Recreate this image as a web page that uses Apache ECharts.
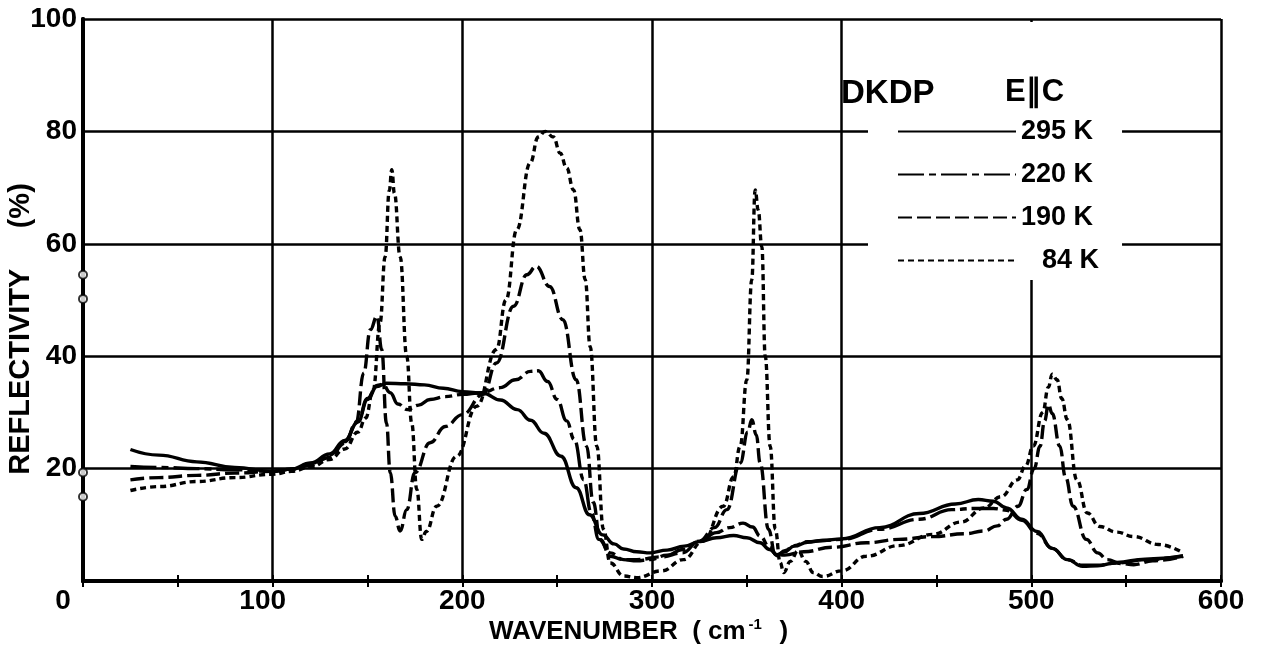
<!DOCTYPE html>
<html><head><meta charset="utf-8">
<script src="https://cdn.jsdelivr.net/npm/echarts@6/dist/echarts.min.js"></script>
<style>html,body{margin:0;padding:0;background:#fff}#c{width:1262px;height:657px}</style>
</head><body><div id="c"></div>
<script>
// ---- data ----
const seriesNames = ['295 K', '220 K', '190 K', '84 K'];
const xTicks = [0, 100, 200, 300, 400, 500, 600];
const yTicks = [20, 40, 60, 80, 100];

const wn295 = [25,40,60,80,100,110,120,130,138,145,150,155,160,170,180,190,200,211,220,229,236,243,252,260,267,274,280,285,292,299,308,317,325,334,343,350,357,362,366,370,375,382,390,400,420,441,460,472,480,487,495,503,511,519,527,535,545,560,580];
const refl295 = [23.4,22.4,21.2,20.2,19.5,19.9,21.0,22.6,25.0,28.3,32.3,34.6,35.2,35.1,34.9,34.3,33.7,33.4,32.2,30.5,28.6,26.3,22.2,16.6,11.8,8.2,6.6,5.7,5.2,5.0,5.5,6.2,7.0,7.7,8.1,7.7,6.8,5.6,4.7,5.2,6.2,6.9,7.2,7.5,9.5,12.0,13.7,14.5,14.2,13.0,11.0,8.8,5.8,3.8,2.6,2.7,3.3,3.9,4.4];

const wn220 = [25,40,60,80,100,110,120,130,138,145,150,155,158,162,166,171,177,183,191,200,210,220,228,236,240,245,250,255,259,264,268,272,278,285,292,299,308,316,325,334,341,348,353,357,362,366,370,375,382,390,400,420,441,458,470,480,487,495,503,511,519,527,535,545,560,580];
const refl220 = [20.4,20.2,20.0,19.8,19.5,19.9,20.9,22.4,24.8,28.5,32.5,34.8,35.0,33.5,31.5,30.5,31.3,32.3,32.8,33.2,33.5,34.4,35.8,37.3,37.4,35.5,32.3,28.5,25.2,18.0,12.1,7.4,5.0,3.8,3.6,3.8,4.6,5.6,7.0,8.6,9.5,10.3,9.6,8.0,6.0,4.5,5.4,6.3,7.0,7.2,7.4,9.2,11.0,12.7,12.9,12.9,12.6,10.8,8.5,5.8,3.8,2.8,2.8,3.2,3.8,4.5];

const wn190 = [25,40,60,80,100,110,120,130,138,144,148,151.5,155,157.5,160,162,164.6,167.2,170.7,175,183,191,200,211,218,227,234,239,246,253,260,265.5,269,272.7,278,285,292,305,316,325,333,339.5,346.5,350.5,352.6,355,357,361.4,365,370,380,395,413,430,448,465,475,482,487,493,497.6,501.5,504.6,507,509,511,515,518,522,529,535,540,547,554,564,580];
const refl190 = [18.0,18.4,18.8,19.2,19.5,19.9,20.6,22.0,24.5,28.1,37.0,44.7,47.1,41.2,28.1,19.3,11.5,8.9,12.7,19.3,24.6,27.5,29.6,33.2,38.8,48.9,54.5,56.0,52.4,46.5,35.8,24.0,14.0,7.4,4.4,3.8,3.8,4.3,5.0,7.1,9.5,12.7,21.0,26.5,28.7,26.0,21.0,9.2,4.8,4.6,5.2,6.0,6.8,7.4,7.9,8.4,8.9,9.8,11.0,13.3,16.3,20.0,24.0,28.5,31.4,29.8,24.0,18.5,13.3,7.4,5.0,3.8,3.1,2.9,3.6,4.4];

const wn84 = [25,40,60,80,100,110,120,130,138,145,149,153,156.6,159.3,161.5,162.8,164.2,167.2,170.7,173.3,176,178.6,181,186.5,197,207.6,218,223,228.7,235.8,240,243.7,248,251.6,255,258.6,262,264.8,267.4,270.9,274.4,278,285,292,305,316.6,327,337.6,343,346.5,350,352.6,354.4,356,357.9,359.7,362.3,365,367.6,369.4,373,377,381,385,390,400,413,430,448,463,475,484,492.6,497,501,506,509,511,513.6,516,519,524,529.5,536,545,554,567,580];
const refl84 = [16.1,16.8,17.7,18.4,19.0,19.5,20.3,21.6,23.5,26.5,29.0,34.0,45.9,57.7,69.5,73.2,69.0,57.7,40.0,28.1,16.3,7.4,8.8,13.3,22.2,31.1,41.2,50.0,62.5,74.4,79.0,80.0,79.0,76.1,73.5,69.6,62.5,53.6,41.7,24.0,9.2,3.2,0.9,0.6,1.8,3.8,7.1,13.3,18.5,24.0,35.8,53.6,69.6,66.0,59.5,40.0,24.0,9.2,3.3,1.5,3.5,5.4,3.5,1.5,0.8,1.8,4.4,6.3,8.3,10.5,13.0,15.0,18.0,20.5,24.0,30.0,34.5,36.8,35.8,32.5,28.7,18.0,12.1,9.7,8.7,7.9,6.5,5.0];

// open circles drawn on the reflectivity axis (wavenumber 0)
const zeroFreqMarks = [54.5, 50.2, 19.3, 15.0];

// ---- chart ----
const FONT = '"Liberation Sans", Arial, sans-serif';
const zip = (xs, ys) => xs.map((x, i) => [x, ys[i]]);
const dashStyles = ['solid', [26, 5, 7, 5], [14, 5], [6, 4]];
const curves = [zip(wn295, refl295), zip(wn220, refl220), zip(wn190, refl190), zip(wn84, refl84)];

const chart = echarts.init(document.getElementById('c'), null, {renderer: 'canvas'});
const option = {
  backgroundColor: '#fff',
  animation: false,
  grid: {left: 83, right: 41, top: 19, bottom: 76, containLabel: false, outerBoundsMode: 'none'},
  title: [
    {text: 'DKDP', left: 836, top: 72, textStyle: {fontFamily: FONT, fontSize: 33, fontWeight: 'bold', color: '#000'}},
    {text: 'E\u2225C', left: 1000, top: 72, textStyle: {fontFamily: FONT, fontSize: 31, fontWeight: 'bold', color: '#000'}}
  ],
  legend: {
    data: seriesNames,
    orient: 'vertical',
    left: 868, top: 22,
    padding: [96, 23, 6, 29],
    itemWidth: 118, itemHeight: 14, itemGap: 16,
    backgroundColor: '#fff',
    itemStyle: {color: 'rgba(0,0,0,0)', borderColor: 'rgba(0,0,0,0)', borderWidth: 0, opacity: 0},
    formatter: n => (n.length < 5 ? '\u2002 ' + n : n),
    textStyle: {fontFamily: FONT, fontSize: 27, fontWeight: 'bold', color: '#000', lineHeight: 26}
  },
  xAxis: [
    {
      type: 'value', min: xTicks[0], max: xTicks[xTicks.length - 1], interval: 100, position: 'bottom',
      name: '{t|WAVENUMBER  ( cm}{s|-1}{t|  )}', nameLocation: 'middle', nameGap: 36, nameMoveOverlap: false,
      nameTextStyle: {padding: [0, 27, 0, 0], rich: {
        t: {fontFamily: FONT, fontSize: 26, fontWeight: 'bold', color: '#000', lineHeight: 30},
        s: {fontFamily: FONT, fontSize: 15, fontWeight: 'bold', color: '#000', verticalAlign: 'top', lineHeight: 30, padding: [0, 3, 10, 3]}
      }},
      axisLine: {show: true, lineStyle: {color: '#000', width: 4}},
      axisTick: {show: false},
      splitLine: {show: true, lineStyle: {color: '#000', width: 2.5}},
      axisLabel: {
        margin: 6,
        formatter: v => v === 0 ? '{a|0}' : (v === 100 ? '{b|100}' : String(v)),
        fontFamily: FONT, fontSize: 28, fontWeight: 'bold', color: '#000',
        rich: {
          a: {fontFamily: FONT, fontSize: 28, fontWeight: 'bold', color: '#000', padding: [0, 40, 0, 0]},
          b: {fontFamily: FONT, fontSize: 28, fontWeight: 'bold', color: '#000', padding: [0, 20, 0, 0]}
        }
      }
    },
    {
      type: 'value', min: 0, max: 600, interval: 50, position: 'top',
      axisLine: {show: true, lineStyle: {color: '#000', width: 4}},
      axisTick: {show: true, inside: true, length: 6, lineStyle: {color: '#000', width: 2}},
      axisLabel: {show: false}, splitLine: {show: false}
    },
    {
      type: 'value', min: 0, max: 600, interval: 50, position: 'bottom',
      axisLine: {show: false},
      axisTick: {show: true, inside: true, length: 6, lineStyle: {color: '#000', width: 2}},
      axisLabel: {show: false}, splitLine: {show: false}
    }
  ],
  yAxis: [
    {
      type: 'value', min: 0, max: yTicks[yTicks.length - 1], interval: 20, position: 'left',
      name: 'REFLECTIVITY     (%)', nameLocation: 'middle', nameGap: 48, nameMoveOverlap: false,
      nameTextStyle: {fontFamily: FONT, fontSize: 29, fontWeight: 'bold', color: '#000', padding: [0, 58, 0, 0]},
      axisLine: {show: true, lineStyle: {color: '#000', width: 4}},
      axisTick: {show: false},
      splitLine: {show: true, lineStyle: {color: '#000', width: 2.5}},
      axisLabel: {margin: 6, showMinLabel: false, formatter: v => (v === 0 ? '' : String(v)),
        fontFamily: FONT, fontSize: 28, fontWeight: 'bold', color: '#000'}
    },
    {
      type: 'value', min: 0, max: 100, interval: 20, position: 'right',
      axisLine: {show: true, lineStyle: {color: '#000', width: 4}},
      axisTick: {show: false}, axisLabel: {show: false}, splitLine: {show: false}
    }
  ],
  series: seriesNames.map((name, i) => ({
    name, type: 'line', xAxisIndex: 0, yAxisIndex: 0,
    data: curves[i], showSymbol: false, symbol: 'none',
    smooth: 0.45, smoothMonotone: 'x',
    lineStyle: {color: '#000', width: 3.4, type: dashStyles[i], cap: 'butt'},
    itemStyle: {color: '#000'}, z: 3
  })).concat([{
    name: 'marks', type: 'scatter', xAxisIndex: 0, yAxisIndex: 0,
    data: zeroFreqMarks.map(v => [0, v]),
    symbol: 'circle', symbolSize: 8,
    itemStyle: {color: '#fff', borderColor: '#000', borderWidth: 2}, z: 5
  }])
};
chart.setOption(option);
</script></body></html>
